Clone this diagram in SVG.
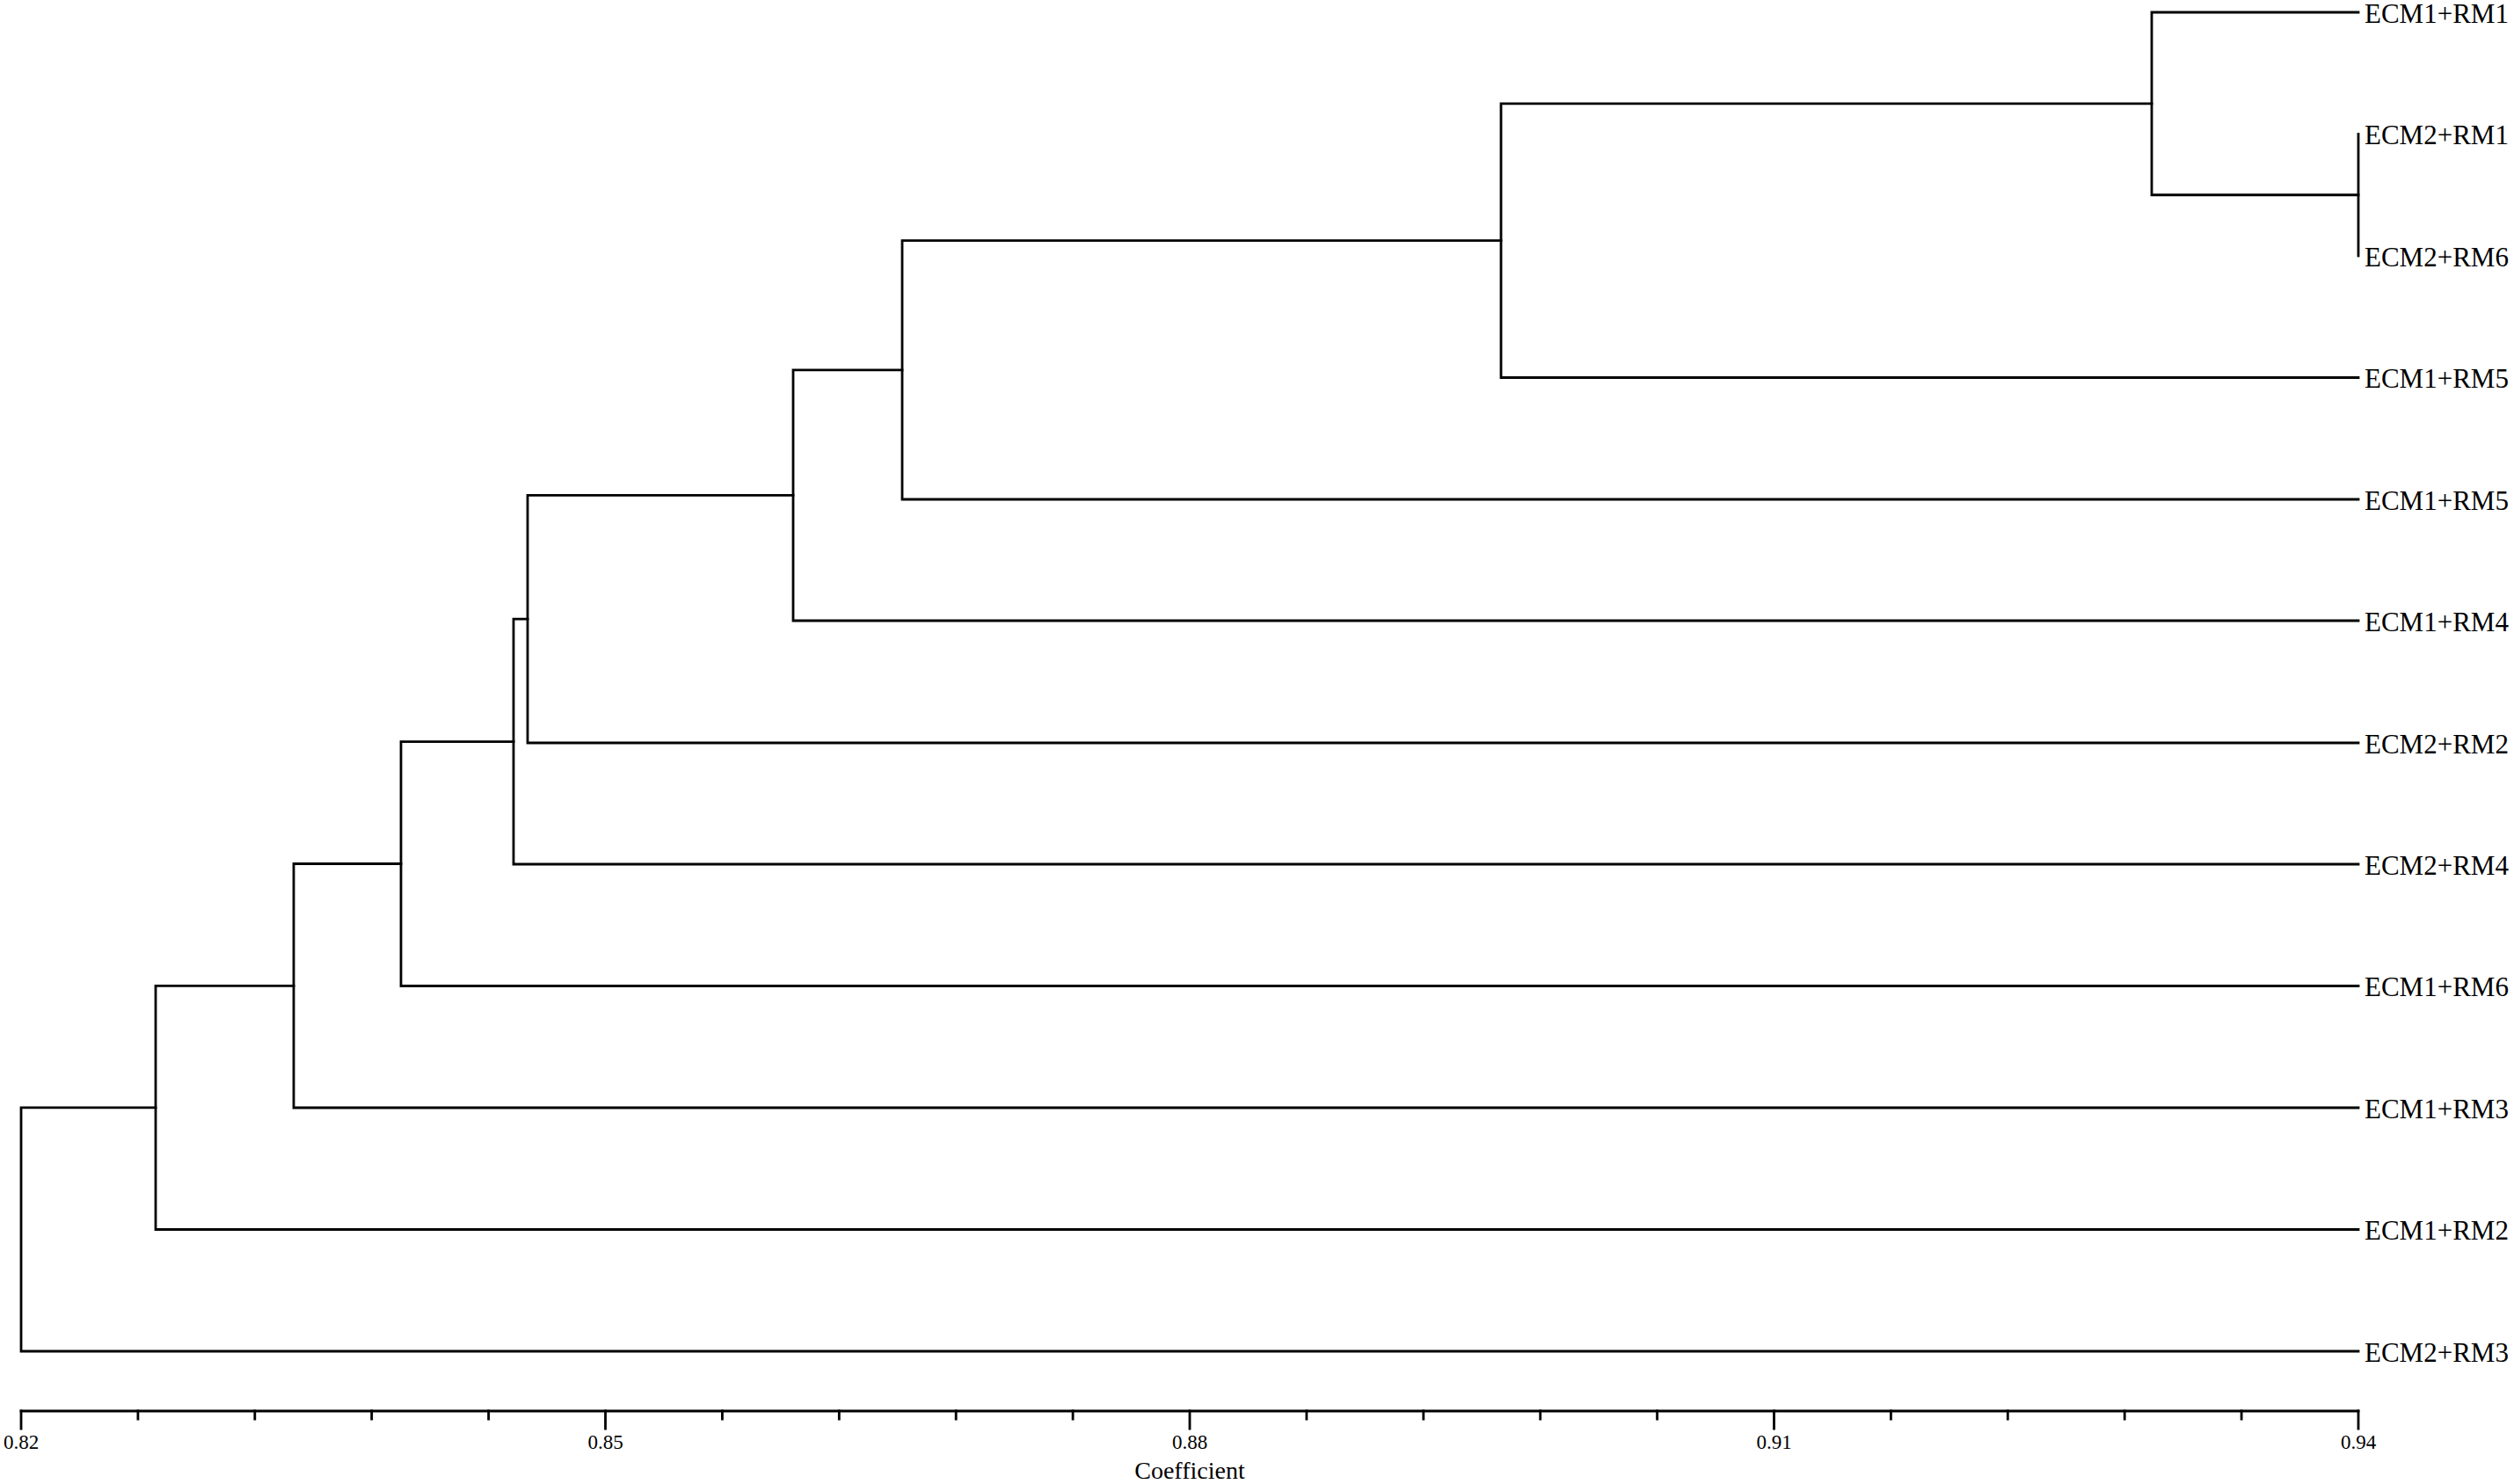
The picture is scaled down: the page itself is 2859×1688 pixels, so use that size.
<svg xmlns="http://www.w3.org/2000/svg" width="2859" height="1688" viewBox="0 0 2859 1688">
<style>
.ln{fill:none;stroke:#000;stroke-width:2.8;stroke-linecap:square}
.lbl{font-family:"Liberation Serif","Times New Roman",serif;font-size:31px;fill:#000}
.tk{font-family:"Liberation Serif","Times New Roman",serif;font-size:23px;fill:#000;text-anchor:middle}
.ttl{font-family:"Liberation Serif","Times New Roman",serif;font-size:28px;fill:#000;text-anchor:middle}
</style>
<rect width="2859" height="1688" fill="#fff"/>
<g id="connectors" class="ln">
<path d="M2682,152.5 V291"/>
<path d="M2682,14 H2447 V221.75 H2682"/>
<path d="M2447,117.9 H1707 V429.5 H2682"/>
<path d="M1707,273.7 H1026 V568 H2682"/>
<path d="M1026,420.8 H902 V706 H2682"/>
<path d="M902,563.4 H600 V845 H2682"/>
<path d="M600,704.2 H584 V983 H2682"/>
<path d="M584,843.6 H456 V1121.5 H2682"/>
<path d="M456,982.5 H334 V1260 H2682"/>
<path d="M334,1121.3 H177 V1398.5 H2682"/>
<path d="M177,1259.9 H24 V1537 H2682"/>
</g>
<g id="leaf-ECM1-RM1"><text class="lbl" x="2689" y="25.5">ECM1+RM1</text></g>
<g id="leaf-ECM2-RM1"><text class="lbl" x="2689" y="164">ECM2+RM1</text></g>
<g id="leaf-ECM2-RM6"><text class="lbl" x="2689" y="302.5">ECM2+RM6</text></g>
<g id="leaf-ECM1-RM5a"><text class="lbl" x="2689" y="441">ECM1+RM5</text></g>
<g id="leaf-ECM1-RM5b"><text class="lbl" x="2689" y="579.5">ECM1+RM5</text></g>
<g id="leaf-ECM1-RM4"><text class="lbl" x="2689" y="717.5">ECM1+RM4</text></g>
<g id="leaf-ECM2-RM2"><text class="lbl" x="2689" y="856.5">ECM2+RM2</text></g>
<g id="leaf-ECM2-RM4"><text class="lbl" x="2689" y="994.5">ECM2+RM4</text></g>
<g id="leaf-ECM1-RM6"><text class="lbl" x="2689" y="1133">ECM1+RM6</text></g>
<g id="leaf-ECM1-RM3"><text class="lbl" x="2689" y="1271.5">ECM1+RM3</text></g>
<g id="leaf-ECM1-RM2"><text class="lbl" x="2689" y="1410">ECM1+RM2</text></g>
<g id="leaf-ECM2-RM3"><text class="lbl" x="2689" y="1548.5">ECM2+RM3</text></g>
<g id="axis">
<path class="ln" d="M24,1605 H2682"/>
<path class="ln" d="M24,1605 v20 M688.5,1605 v20 M1353,1605 v20 M2017.5,1605 v20 M2682,1605 v20"/>
<path class="ln" d="M156.9,1605 v9 M289.8,1605 v9 M422.7,1605 v9 M555.6,1605 v9 M821.4,1605 v9 M954.3,1605 v9 M1087.2,1605 v9 M1220.1,1605 v9 M1485.9,1605 v9 M1618.8,1605 v9 M1751.7,1605 v9 M1884.6,1605 v9 M2150.4,1605 v9 M2283.3,1605 v9 M2416.2,1605 v9 M2549.1,1605 v9"/>
<text class="tk" x="24" y="1648">0.82</text>
<text class="tk" x="688.5" y="1648">0.85</text>
<text class="tk" x="1353" y="1648">0.88</text>
<text class="tk" x="2017.5" y="1648">0.91</text>
<text class="tk" x="2682" y="1648">0.94</text>
<text class="ttl" x="1353" y="1682">Coefficient</text>
</g>
</svg>
